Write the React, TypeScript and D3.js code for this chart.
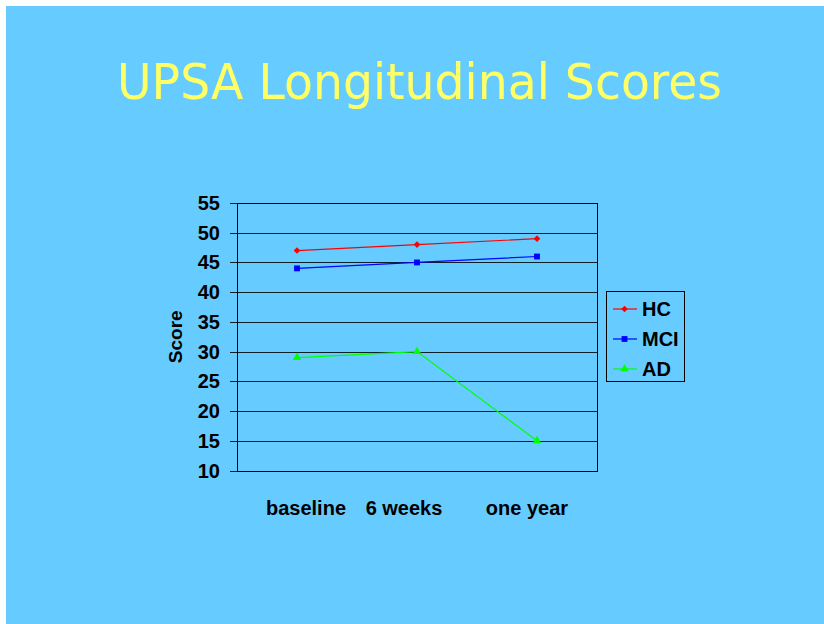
import { useEffect, useRef } from 'react';
import * as d3 from 'd3';

// Chart data
const categories = ['baseline', '6 weeks', 'one year'];
const hcScores = [47, 48, 49];
const mciScores = [44, 45, 46];
const adScores = [29, 30, 15];
const yTicks = [10, 15, 20, 25, 30, 35, 40, 45, 50, 55];

const SERIES = [
    { name: 'HC', values: hcScores, color: '#ff0000', symbol: d3.symbolSquare, size: 22, rotate: 45 },
    { name: 'MCI', values: mciScores, color: '#0000ff', symbol: d3.symbolSquare, size: 34, rotate: 0 },
    { name: 'AD', values: adScores, color: '#00ff00', symbol: d3.symbolTriangle, size: 32, rotate: 0 },
];

const W = 824;
const H = 624;
const PLOT = { left: 237, right: 597, top: 203, bottom: 470.5 };
// the category labels sit off-centre in the original slide
const LABEL_SHIFT = [9, -13, -10];
const FONT = 'Liberation Sans, Arial, sans-serif';

export default function App() {
    const svgRef = useRef<SVGSVGElement>(null);

    useEffect(() => {
        document.body.style.margin = '0';
        if (!svgRef.current) return;
        const svg = d3.select(svgRef.current);
        svg.selectAll('*').remove();

        svg.append('rect')
            .attr('x', 6).attr('y', 6)
            .attr('width', W - 6).attr('height', H - 6)
            .attr('fill', '#66ccff');

        svg.append('text')
            .attr('x', 117).attr('y', 99)
            .attr('textLength', 605)
            .attr('lengthAdjust', 'spacingAndGlyphs')
            .attr('font-family', '"Comic Sans MS", "DejaVu Sans", sans-serif')
            .attr('font-size', 50)
            .attr('fill', '#ffff66')
            .text('UPSA Longitudinal Scores');

        const x = d3.scalePoint<string>()
            .domain(categories)
            .range([PLOT.left, PLOT.right])
            .padding(0.5);
        const y = d3.scaleLinear().domain([10, 55]).range([PLOT.bottom, PLOT.top]);

        // grid
        svg.append('g')
            .selectAll('line')
            .data(yTicks)
            .join('line')
            .attr('x1', PLOT.left - 7)
            .attr('x2', PLOT.right)
            .attr('y1', (d) => Math.round(y(d)) + 0.5)
            .attr('y2', (d) => Math.round(y(d)) + 0.5)
            .attr('stroke', '#000')
            .attr('stroke-opacity', 0.85);

        svg.append('g')
            .selectAll('text')
            .data(yTicks)
            .join('text')
            .attr('x', 220)
            .attr('y', (d) => y(d) + 7)
            .attr('text-anchor', 'end')
            .attr('font-family', FONT)
            .attr('font-weight', 'bold')
            .attr('font-size', 20)
            .attr('fill', '#000')
            .text((d) => d);

        // plot frame
        svg.append('rect')
            .attr('x', PLOT.left + 0.5).attr('y', Math.round(PLOT.top) + 0.5)
            .attr('width', PLOT.right - PLOT.left)
            .attr('height', Math.round(PLOT.bottom) - Math.round(PLOT.top))
            .attr('fill', 'none')
            .attr('stroke', '#000');

        svg.append('text')
            .attr('transform', `translate(182,${(PLOT.top + PLOT.bottom) / 2}) rotate(-90)`)
            .attr('text-anchor', 'middle')
            .attr('font-family', FONT)
            .attr('font-weight', 'bold')
            .attr('font-size', 19)
            .text('Score');

        svg.append('g')
            .selectAll('text')
            .data(categories)
            .join('text')
            .attr('x', (d, i) => (x(d) ?? 0) + LABEL_SHIFT[i])
            .attr('y', 515)
            .attr('text-anchor', 'middle')
            .attr('font-family', FONT)
            .attr('font-weight', 'bold')
            .attr('font-size', 20)
            .text((d) => d);

        const line = d3.line<number>()
            .x((_, i) => x(categories[i]) ?? 0)
            .y((d) => y(d));

        SERIES.forEach((s) => {
            svg.append('path')
                .datum(s.values)
                .attr('fill', 'none')
                .attr('stroke', s.color)
                .attr('stroke-width', 1.2)
                .attr('d', line);
            svg.append('g')
                .selectAll('path')
                .data(s.values)
                .join('path')
                .attr('transform', (d, i) => `translate(${x(categories[i])},${y(d)}) rotate(${s.rotate})`)
                .attr('d', d3.symbol().type(s.symbol).size(s.size)())
                .attr('fill', s.color);
        });

        // legend
        const lg = svg.append('g');
        lg.append('rect')
            .attr('x', 606.5).attr('y', 291.5)
            .attr('width', 78).attr('height', 90)
            .attr('fill', 'none')
            .attr('stroke', '#000');
        SERIES.forEach((s, i) => {
            const ly = 309 + i * 30;
            lg.append('line')
                .attr('x1', 613).attr('x2', 637)
                .attr('y1', ly).attr('y2', ly)
                .attr('stroke', s.color)
                .attr('stroke-width', 1.2);
            lg.append('path')
                .attr('transform', `translate(624.5,${ly}) rotate(${s.rotate})`)
                .attr('d', d3.symbol().type(s.symbol).size(s.size)())
                .attr('fill', s.color);
            lg.append('text')
                .attr('x', 642)
                .attr('y', ly + 7)
                .attr('font-family', FONT)
                .attr('font-weight', 'bold')
                .attr('font-size', 20)
                .text(s.name);
        });
    }, []);

    return <svg ref={svgRef} width={W} height={H} style={{ display: 'block' }} />;
}
